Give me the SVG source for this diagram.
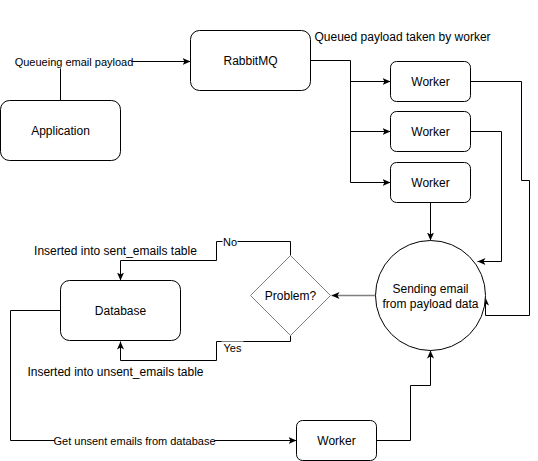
<svg xmlns="http://www.w3.org/2000/svg" width="538" height="461" viewBox="0 0 538 461">
<style>
.node{fill:#fff;stroke:#000;stroke-width:1}
.t{font-family:"Liberation Sans",Arial,sans-serif;font-size:12px;fill:#000;text-anchor:middle;dominant-baseline:central}
.e{font-family:"Liberation Sans",Arial,sans-serif;font-size:11px;fill:#000;text-anchor:middle;dominant-baseline:central}
.c{fill:none;stroke:#000;stroke-width:1}
.g{fill:none;stroke:#808080;stroke-width:1.5}
.lbl{fill:#fff}
</style>
<defs>
<marker id="a" markerWidth="10" markerHeight="8" refX="8" refY="4" orient="auto" markerUnits="userSpaceOnUse">
<path d="M0,0.5 L8,4 L0,7.5 L2,4 z" fill="#000"/>
</marker>
</defs>
<rect width="538" height="461" fill="#fff"/>
<g transform="translate(0.5,0.5)">
<g id="connectors">
<path class="c" d="M60,100 V61 H190" marker-end="url(#a)"/>
<rect class="lbl" x="16" y="55" width="115" height="13"/>
<text class="e" x="73.5" y="61">Queueing email payload</text>
<path class="c" d="M310,60 H350 V182"/>
<path class="c" d="M350,81 H390" marker-end="url(#a)"/>
<path class="c" d="M350,131 H390" marker-end="url(#a)"/>
<path class="c" d="M350,182 H390" marker-end="url(#a)"/>
<path class="c" d="M470,81 H521 V180 H529 V315 H485 V297" marker-end="url(#a)"/>
<path class="c" d="M470,131 H501 V261 H477" marker-end="url(#a)"/>
<path class="c" d="M430,202 V240" marker-end="url(#a)"/>
<path class="g" d="M375,295 H331" marker-end="url(#a)"/>
<path class="c" d="M290,255 V241 H216 V260 H120 V280" marker-end="url(#a)"/>
<rect class="lbl" x="222" y="235" width="15" height="13"/>
<text class="e" x="229.5" y="241">No</text>
<path class="c" d="M290,335 V341 H216 V360 H120 V341" marker-end="url(#a)"/>
<rect class="lbl" x="221" y="341" width="22" height="12"/>
<text class="e" x="232" y="347">Yes</text>
<path class="c" d="M60,310 H10 V440 H296" marker-end="url(#a)"/>
<rect class="lbl" x="54" y="434" width="160" height="13"/>
<text class="e" x="134" y="440">Get unsent emails from database</text>
<path class="c" d="M376,440 H410 V385 H430 V350" marker-end="url(#a)"/>
<text class="t" x="314" y="36" style="text-anchor:start">Queued payload taken by worker</text>
<text class="t" x="115" y="250">Inserted into sent_emails table</text>
<text class="t" x="115" y="371">Inserted into unsent_emails table</text>
</g>
<g id="application">
<rect class="node" x="0" y="100" width="120" height="60" rx="9"/>
<text class="t" x="60" y="130">Application</text>
</g>
<g id="rabbitmq">
<rect class="node" x="190" y="30" width="120" height="60" rx="9"/>
<text class="t" x="250" y="60">RabbitMQ</text>
</g>
<g id="worker1">
<rect class="node" x="390" y="61" width="80" height="40" rx="6"/>
<text class="t" x="430" y="81">Worker</text>
</g>
<g id="worker2">
<rect class="node" x="390" y="111" width="80" height="40" rx="6"/>
<text class="t" x="430" y="131">Worker</text>
</g>
<g id="worker3">
<rect class="node" x="390" y="162" width="80" height="40" rx="6"/>
<text class="t" x="430" y="182">Worker</text>
</g>
<g id="sending">
<circle class="node" cx="430" cy="295" r="55"/>
<text class="t" x="430" y="288">Sending email</text>
<text class="t" x="430" y="303">from payload data</text>
</g>
<g id="problem">
<path d="M290,255 L330,295 L290,335 L250,295 Z" fill="#fff" stroke="#808080" stroke-width="1"/>
<text class="t" x="290" y="295">Problem?</text>
</g>
<g id="database">
<rect class="node" x="60" y="280" width="120" height="60" rx="9"/>
<text class="t" x="120" y="310">Database</text>
</g>
<g id="worker4">
<rect class="node" x="296" y="420" width="80" height="40" rx="6"/>
<text class="t" x="336" y="440">Worker</text>
</g>
</g>
</svg>
